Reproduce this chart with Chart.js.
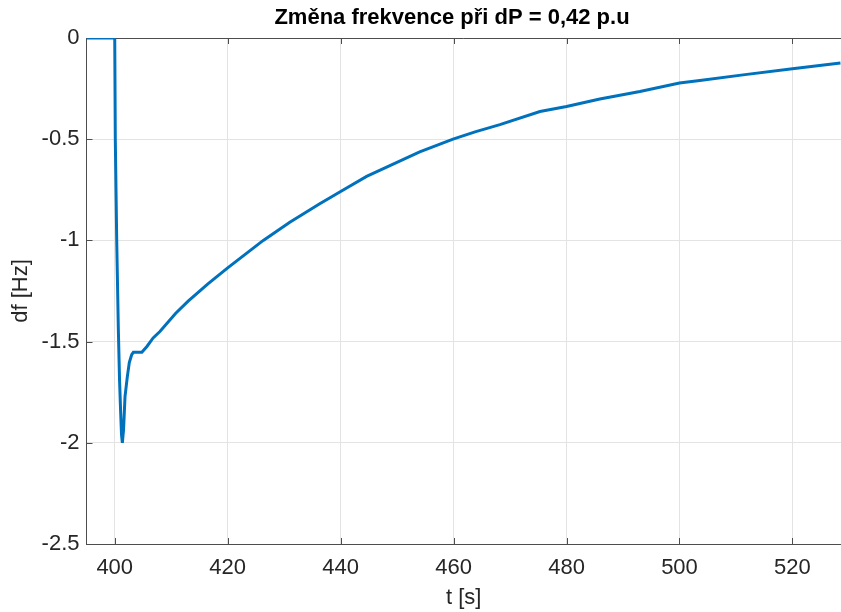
<!DOCTYPE html>
<html>
<head>
<meta charset="utf-8">
<script src="https://cdn.jsdelivr.net/npm/chart.js@4.4.1/dist/chart.umd.min.js"></script>
<style>
  body { margin: 0; background: #fff; }
  #wrap { width: 841px; height: 612px; position: relative; }
</style>
</head>
<body>
<div id="wrap"><canvas id="freqChart"></canvas></div>
<script>
const ctx = document.getElementById("freqChart").getContext("2d");

// time [s] and frequency deviation [Hz]
const timeValues = [
    395, 400, 400.1, 400.35, 400.64, 400.85, 401.03, 401.2, 401.35, 401.56,
    401.82, 402.23, 402.58, 403.0, 403.3, 403.9, 404.8, 405.7, 406.8, 408,
    410.8, 413, 416.5, 420, 426.3, 431, 436.3, 440, 444.6, 454,
    459.9, 463.8, 468.2, 475.3, 480, 485.9, 493, 500, 503.6, 511.6,
    520, 528.5
];
const dfValues = [
    0, 0, -0.5, -1.0, -1.441, -1.688, -1.836, -1.96, -2.0, -1.935,
    -1.772, -1.673, -1.604, -1.565, -1.553, -1.553, -1.553, -1.524, -1.482, -1.45,
    -1.36, -1.3, -1.215, -1.136, -1.0, -0.91, -0.819, -0.758, -0.684, -0.563,
    -0.5, -0.464, -0.428, -0.363, -0.338, -0.301, -0.264, -0.222, -0.21, -0.181,
    -0.152, -0.124
];

const xTicks = [400, 420, 440, 460, 480, 500, 520];
const yTicks = [0, -0.5, -1, -1.5, -2, -2.5];

const titleText = "Změna frekvence při dP = 0,42 p.u";
const fontFamily = '"Liberation Sans", Arial, sans-serif';
const axisColor = "#4d4d4d";

// MATLAB-style box: top edge, inward tick marks and the title
const framePlugin = {
    id: "frame",
    beforeDatasetsDraw(chart) {
        const { ctx, chartArea: a, scales: { x, y } } = chart;
        ctx.save();
        ctx.strokeStyle = axisColor;
        ctx.lineWidth = 1;
        ctx.beginPath();
        ctx.moveTo(a.left, a.top + 0.5);
        ctx.lineTo(a.right, a.top + 0.5);
        xTicks.forEach(v => {
            const px = Math.round(x.getPixelForValue(v)) + 0.5;
            ctx.moveTo(px, a.bottom);
            ctx.lineTo(px, a.bottom - 6);
            ctx.moveTo(px, a.top);
            ctx.lineTo(px, a.top + 6);
        });
        yTicks.forEach(v => {
            const py = Math.round(y.getPixelForValue(v)) + 0.5;
            ctx.moveTo(a.left, py);
            ctx.lineTo(a.left + 6, py);
        });
        ctx.stroke();
        ctx.restore();
    },
    afterDraw(chart) {
        const { ctx } = chart;
        ctx.save();
        ctx.font = "bold 22px " + fontFamily;
        ctx.fillStyle = "#000";
        ctx.textAlign = "center";
        ctx.textBaseline = "middle";
        ctx.fillText(titleText, 452, 18);
        ctx.restore();
    }
};

const chart = new Chart(ctx, {
    type: "line",
    data: {
        datasets: [
            {
                label: "df",
                data: timeValues.map((t, i) => ({ x: t, y: dfValues[i] })),
                borderColor: "#0072BD",
                borderWidth: 3,
                pointRadius: 0,
                tension: 0,
                fill: false,
            },
        ],
    },
    options: {
        responsive: true,
        maintainAspectRatio: false,
        animation: false,
        layout: { padding: { top: 38, right: 0, left: 0, bottom: 0 } },
        scales: {
            x: {
                type: "linear",
                min: 395,
                max: 528.6,
                afterBuildTicks: s => { s.ticks = xTicks.map(v => ({ value: v })); },
                afterFit: s => { s.height = 68; },
                ticks: {
                    color: "#262626",
                    font: { family: fontFamily, size: 22 },
                    padding: 11,
                    maxRotation: 0,
                    callback: v => String(v),
                },
                grid: { color: "#e3e3e3", drawTicks: false },
                border: { color: axisColor },
                title: {
                    display: true,
                    text: "t [s]",
                    color: "#262626",
                    font: { family: fontFamily, size: 22 },
                    padding: { top: 0, bottom: 1 },
                },
            },
            y: {
                min: -2.5,
                max: 0,
                afterBuildTicks: s => { s.ticks = yTicks.map(v => ({ value: v })); },
                afterFit: s => { s.width = 86.5; },
                ticks: {
                    color: "#262626",
                    font: { family: fontFamily, size: 22 },
                    padding: 7,
                    callback: v => String(v),
                },
                grid: { color: "#e3e3e3", drawTicks: false },
                border: { color: axisColor },
                title: {
                    display: true,
                    text: "df [Hz]",
                    color: "#262626",
                    font: { family: fontFamily, size: 22 },
                    padding: { top: 8, bottom: 0 },
                },
            },
        },
        plugins: {
            legend: { display: false },
            tooltip: { enabled: false },
        },
    },
    plugins: [framePlugin],
});
</script>
</body>
</html>
